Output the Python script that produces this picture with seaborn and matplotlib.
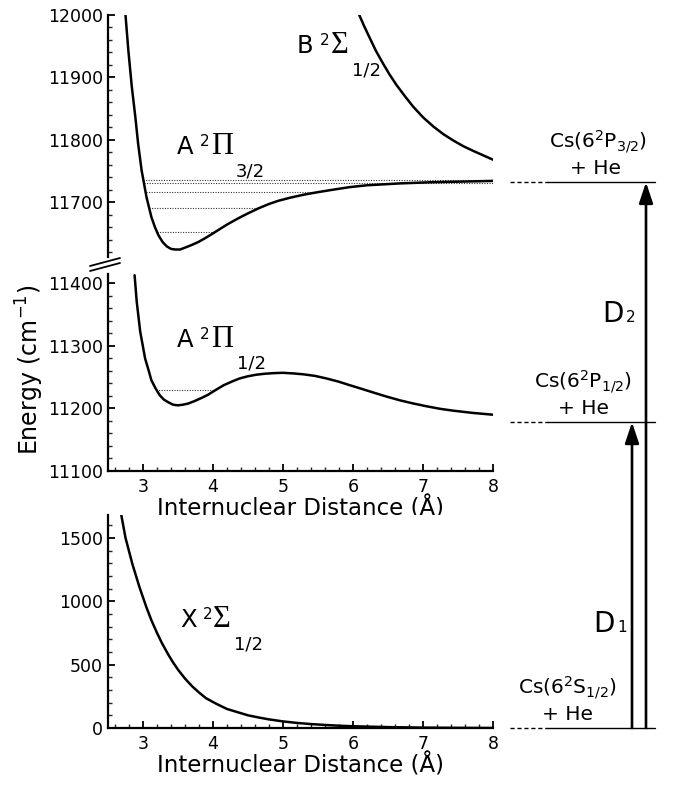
import matplotlib
matplotlib.use("Agg")
import matplotlib.pyplot as plt
import seaborn as sns
from matplotlib.ticker import MultipleLocator
from matplotlib.transforms import blended_transform_factory
from matplotlib.patches import ConnectionPatch
from matplotlib.lines import Line2D

# ---------------- data ----------------
# A 2Pi_3/2 potential (top panel)
A32_R = [2.75, 2.79, 2.84, 2.89, 2.93, 2.98, 3.05, 3.12, 3.17, 3.22, 3.28, 3.34, 3.40,
         3.46, 3.53, 3.60, 3.69, 3.79, 3.90, 4.03, 4.20, 4.36, 4.50, 4.65, 4.80,
         4.93, 5.10, 5.30, 5.50, 5.72, 5.95, 6.20, 6.67, 7.15, 7.60, 8.00]
A32_E = [12000, 11944, 11885, 11837, 11794, 11751, 11708, 11676, 11660, 11647, 11636, 11629, 11625,
         11624, 11624, 11627, 11631, 11636, 11643, 11652, 11664, 11674, 11682, 11690, 11697,
         11702, 11707, 11712, 11716, 11720, 11724, 11727, 11730, 11732, 11733, 11734]
# B 2Sigma_1/2 potential (top panel)
B_R = [6.09, 6.16, 6.24, 6.33, 6.43, 6.52, 6.62, 6.74, 6.86, 7.00, 7.15, 7.29, 7.43,
       7.57, 7.72, 7.86, 8.00]
B_E = [12000, 11982, 11963, 11942, 11922, 11905, 11888, 11870, 11853, 11836, 11821, 11809, 11799,
       11790, 11782, 11775, 11768]
# vibrational levels in A 2Pi_3/2
A32_lev_E = [11652, 11691, 11716, 11731, 11735]
A32_lev_R0 = [3.20, 3.09, 3.04, 3.01, 3.005]
A32_lev_R1 = [4.03, 4.66, 5.50, 8.00, 8.00]

# A 2Pi_1/2 potential (middle panel)
A12_R = [2.88, 2.91, 2.96, 3.03, 3.08, 3.12, 3.18, 3.24, 3.30, 3.36, 3.43, 3.50, 3.57,
         3.65, 3.74, 3.84, 3.93, 4.03, 4.15, 4.27, 4.38, 4.50, 4.62, 4.74, 4.87,
         5.00, 5.15, 5.30, 5.46, 5.62, 5.79, 5.96, 6.12, 6.29, 6.48, 6.67, 6.86,
         7.05, 7.24, 7.43, 7.70, 8.00]
A12_E = [11413, 11371, 11323, 11280, 11261, 11245, 11232, 11221, 11214, 11210, 11206, 11205, 11206,
         11208, 11212, 11217, 11222, 11229, 11237, 11243, 11248, 11251.5, 11254, 11255.5, 11256.5,
         11257, 11256, 11254.5, 11252, 11248, 11243, 11237, 11231.5, 11225.5, 11219, 11213, 11208,
         11203.5, 11199.5, 11196.5, 11193, 11190]
A12_lev_E = [11230]
A12_lev_R0 = [3.19]
A12_lev_R1 = [4.04]

# X 2Sigma_1/2 potential (bottom panel)
X_R = [2.69, 2.75, 2.80, 2.85, 2.90, 2.95, 3.00, 3.05, 3.12, 3.20, 3.27, 3.35, 3.42,
       3.50, 3.60, 3.70, 3.80, 3.90, 4.05, 4.20, 4.35, 4.50, 4.65, 4.80, 5.00,
       5.20, 5.40, 5.60, 5.80, 6.00, 6.50, 7.00, 7.50, 8.00]
X_E = [1680, 1500, 1395, 1290, 1200, 1110, 1030, 950, 850, 750, 670, 590, 525,
       460, 390, 330, 280, 235, 190, 150, 125, 100, 83, 68, 52,
       40, 31, 24, 18, 14, 7, 3, 1, 0]

# atomic asymptotes
asym_E = [11732, 11178, 0]
asym_labels = ["Cs(6$^2$P$_{3/2}$)", "Cs(6$^2$P$_{1/2}$)", "Cs(6$^2$S$_{1/2}$)"]

xticks = [3, 4, 5, 6, 7, 8]

# ---------------- figure ----------------
sns.set_theme(style="ticks")
plt.rcParams["font.family"] = ["DejaVu Sans"]
plt.rcParams["mathtext.default"] = "regular"

W, H = 673, 785
fig = plt.figure(figsize=(W / 100, H / 100), dpi=100)
fig.patch.set_facecolor("white")


def px_box(l, t, r, b):
    return [l / W, 1 - b / H, (r - l) / W, (b - t) / H]


ax_top = fig.add_axes(px_box(108, 15, 493, 257))
ax_mid = fig.add_axes(px_box(108, 274, 493, 471))
ax_bot = fig.add_axes(px_box(108, 515, 493, 728))

for ax in (ax_top, ax_mid, ax_bot):
    ax.set_facecolor("white")
    ax.set_xlim(2.5, 8)
    for s in ("top", "right"):
        ax.spines[s].set_visible(False)
    for s in ("left", "bottom"):
        ax.spines[s].set_linewidth(1.6)
        ax.spines[s].set_color("black")
    ax.xaxis.set_major_locator(MultipleLocator(1))
    ax.xaxis.set_minor_locator(MultipleLocator(0.2))
    ax.tick_params(which="major", direction="in", length=5, width=1.3,
                   labelsize=12.5, colors="black")
    ax.tick_params(which="minor", direction="in", length=3, width=1.0)
    ax.tick_params(axis="y", which="both", pad=3.5)
    ax.tick_params(axis="x", which="both", pad=5)
    ax.grid(False)

ax_top.set_ylim(11612, 12000)
ax_top.yaxis.set_major_locator(MultipleLocator(100))
ax_top.yaxis.set_minor_locator(MultipleLocator(20))
ax_top.spines["bottom"].set_visible(False)
ax_top.tick_params(axis="x", which="both", bottom=False, labelbottom=False)

ax_mid.set_ylim(11100, 11415)
ax_mid.yaxis.set_major_locator(MultipleLocator(100))
ax_mid.yaxis.set_minor_locator(MultipleLocator(20))

ax_bot.set_ylim(0, 1680)
ax_bot.yaxis.set_major_locator(MultipleLocator(500))
ax_bot.yaxis.set_minor_locator(MultipleLocator(100))

# dotted vibrational levels
dot = (0, (1, 1.3))
ax_top.hlines(A32_lev_E, A32_lev_R0, A32_lev_R1, colors="#333333", linestyles=[dot], lw=0.8, zorder=2)
ax_mid.hlines(A12_lev_E, A12_lev_R0, A12_lev_R1, colors="#333333", linestyles=[dot], lw=0.8, zorder=2)

# potential curves
kw = dict(color="black", lw=1.8, legend=False, zorder=3)
sns.lineplot(x=A32_R, y=A32_E, ax=ax_top, **kw)
sns.lineplot(x=B_R, y=B_E, ax=ax_top, **kw)
sns.lineplot(x=A12_R, y=A12_E, ax=ax_mid, **kw)
sns.lineplot(x=X_R, y=X_E, ax=ax_bot, **kw)

ax_top.set_xlabel("")
ax_top.set_ylabel("")
for ax in (ax_mid, ax_bot):
    ax.set_xticks(xticks)
    ax.set_xticklabels([str(v) for v in xticks])
    ax.set_xlabel("Internuclear Distance (Å)", fontsize=16.5, labelpad=0, color="black")
    ax.set_ylabel("")

P2PT = 0.72  # pixel -> point at 100 dpi


def state_label(ax, R, E, letter, greek, sub, greek_dx, sub_dx):
    ax.text(R, E, letter, fontsize=17.5, ha="left", va="baseline", color="black")
    ax.annotate("2", xy=(R, E), xytext=(23 * P2PT, 8 * P2PT), textcoords="offset points",
                fontsize=11, ha="left", va="baseline", color="black")
    ax.annotate(greek, xy=(R, E), xytext=(greek_dx * P2PT, 0), textcoords="offset points",
                fontsize=22, family="Liberation Serif", ha="left", va="baseline", color="black")
    ax.annotate(sub, xy=(R, E), xytext=(sub_dx * P2PT, -22 * P2PT), textcoords="offset points",
                fontsize=13, ha="left", va="baseline", color="black")


state_label(ax_top, 3.49, 11777, "A", "Π", "3/2", 34, 58)
state_label(ax_top, 5.20, 11939, "B", "Σ", "1/2", 34, 55)
state_label(ax_mid, 3.49, 11299, "A", "Π", "1/2", 34, 60)
state_label(ax_bot, 3.53, 795, "X", "Σ", "1/2", 33, 54)

# y label
fig.text(30 / W, 1 - 370 / H, "Energy (cm$^{-1}$)", rotation=90, ha="center", va="center",
         fontsize=17, color="black")

# axis break marks
for (x1, y1, x2, y2) in [(90, 266, 120, 258), (90, 271, 120, 263)]:
    fig.add_artist(Line2D([x1 / W, x2 / W], [1 - y1 / H, 1 - y2 / H],
                          transform=fig.transFigure, color="black", lw=1.3))

# asymptote levels and labels
level_axes = [ax_top, ax_mid, ax_bot]
label_cx = [598, 583, 567]
he_cx = [596, 583, 568]
for ax, E, lab, cx, hx in zip(level_axes, asym_E, asym_labels, label_cx, he_cx):
    tr = blended_transform_factory(fig.transFigure, ax.transData)
    ax.plot([510 / W, 548 / W], [E, E], transform=tr, color="black", lw=1.0,
            ls=(0, (3, 2)), clip_on=False)
    ax.plot([548 / W, 655 / W], [E, E], transform=tr, color="black", lw=1.0,
            clip_on=False)
    ax.annotate(lab, xy=(cx / W, E), xycoords=tr, xytext=(0, 34 * P2PT),
                textcoords="offset points", ha="center", va="baseline", fontsize=14.5,
                color="black", annotation_clip=False)
    ax.annotate("+ He", xy=(hx / W, E), xycoords=tr, xytext=(0, 8 * P2PT),
                textcoords="offset points", ha="center", va="baseline", fontsize=14.5,
                color="black", annotation_clip=False)

# transition arrows
tr_bot = blended_transform_factory(fig.transFigure, ax_bot.transData)
for x_px, ax_end, E_end in [(646, ax_top, asym_E[0]), (632, ax_mid, asym_E[1])]:
    tr_end = blended_transform_factory(fig.transFigure, ax_end.transData)
    con = ConnectionPatch(xyA=(x_px / W, asym_E[2]), coordsA=tr_bot,
                          xyB=(x_px / W, E_end), coordsB=tr_end,
                          arrowstyle="-|>,head_length=0.9,head_width=0.3",
                          mutation_scale=14, lw=1.9, color="black",
                          shrinkA=0, shrinkB=0)
    fig.add_artist(con)

# D labels
fig.text(602 / W, 1 - 322 / H, "D", fontsize=20, ha="left", va="baseline", color="black")
fig.text(626 / W, 1 - 322 / H, "2", fontsize=11, ha="left", va="baseline", color="black")
fig.text(593 / W, 1 - 632 / H, "D", fontsize=20, ha="left", va="baseline", color="black")
fig.text(617 / W, 1 - 632 / H, "1", fontsize=11, ha="left", va="baseline", color="black")

fig.savefig("out.png", dpi=100, facecolor="white")
